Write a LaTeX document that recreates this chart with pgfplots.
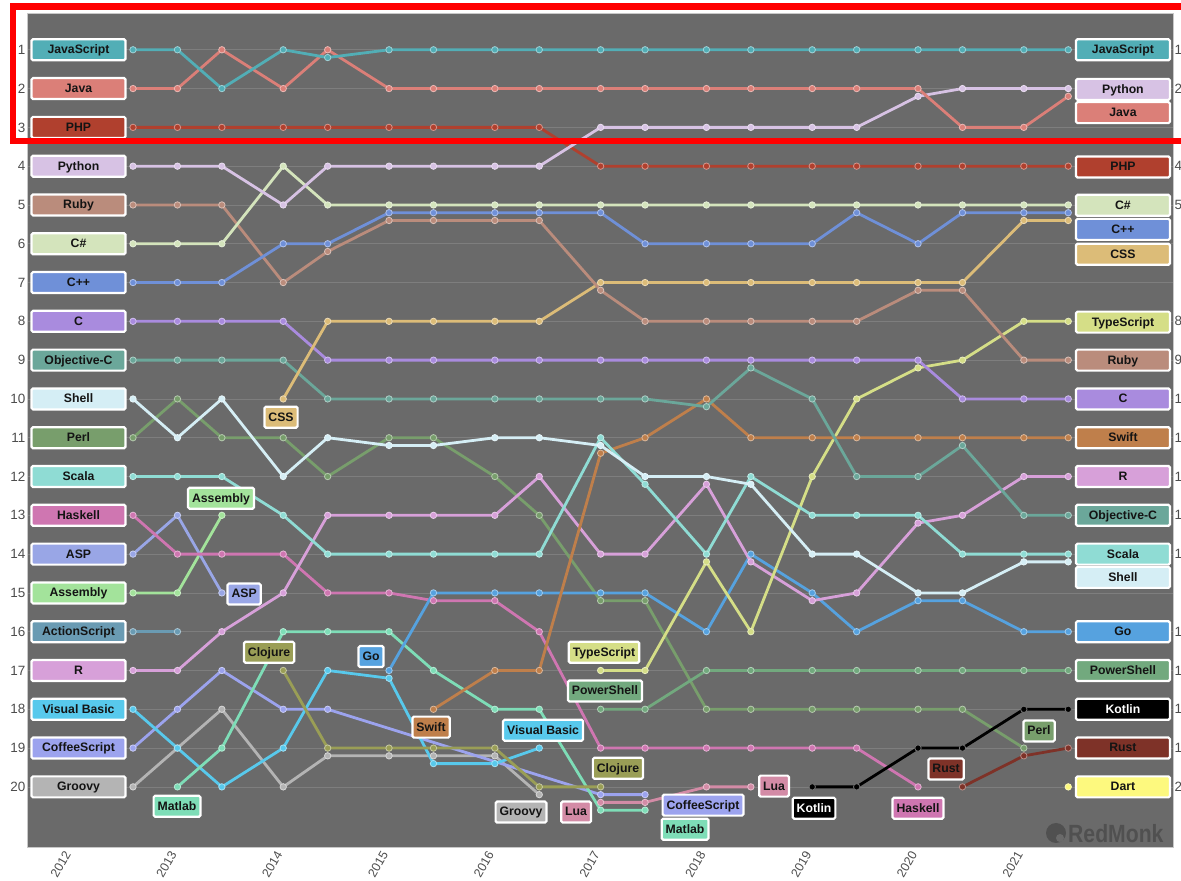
\documentclass[border=0pt]{standalone}
\usepackage{fontspec}
\setmainfont{Liberation Sans}
\usepackage{pgfplots}
\pgfplotsset{compat=1.18}

\definecolor{panel}{HTML}{6A6A6A}
\definecolor{gridc}{HTML}{7E7E7E}
\definecolor{panelline}{HTML}{C8C8C8}
\definecolor{tickc}{HTML}{4D4D4D}
\definecolor{logoc}{HTML}{505050}
\definecolor{cjs}{HTML}{52AEB6}
\definecolor{cjava}{HTML}{DB7F78}
\definecolor{cphp}{HTML}{B0402E}
\definecolor{cpy}{HTML}{D7C2E4}
\definecolor{cruby}{HTML}{BA8C7C}
\definecolor{ccs}{HTML}{D4E4BC}
\definecolor{ccpp}{HTML}{6F90D8}
\definecolor{ccss}{HTML}{DCBC78}
\definecolor{cc}{HTML}{A98BDE}
\definecolor{cobjc}{HTML}{6BA79A}
\definecolor{cshell}{HTML}{D5EEF5}
\definecolor{cperl}{HTML}{789E6C}
\definecolor{cscala}{HTML}{8FDCD4}
\definecolor{chask}{HTML}{CF76B1}
\definecolor{casp}{HTML}{99A6E6}
\definecolor{casm}{HTML}{A3E39B}
\definecolor{cas}{HTML}{6A9BB3}
\definecolor{cr}{HTML}{D7A0D9}
\definecolor{cvb}{HTML}{58C9EC}
\definecolor{ccoffee}{HTML}{9CA3EE}
\definecolor{cgroovy}{HTML}{B4B4B4}
\definecolor{cmatlab}{HTML}{7EDDB7}
\definecolor{cclj}{HTML}{9A9E56}
\definecolor{cgo}{HTML}{56A2DF}
\definecolor{cswift}{HTML}{BF7F4B}
\definecolor{clua}{HTML}{D38BA6}
\definecolor{cts}{HTML}{D5DE87}
\definecolor{cps}{HTML}{72A97E}
\definecolor{ckotlin}{HTML}{000000}
\definecolor{crust}{HTML}{7E3228}
\definecolor{cdart}{HTML}{FDF97E}

\pgfplotsset{
  ser/.style={color=#1, line width=2.8bp, mark=*, mark size=3.2bp,
    mark options={solid, fill=#1, draw=#1!55!white, line width=0.8bp}},
}
\tikzset{
  lbl/.style={draw=white, line width=2.2bp, rounded corners=1.5bp,
    inner xsep=4bp, inner ysep=0bp, minimum height=21bp,
    text height=9bp, text depth=1.2bp,
    font=\fontsize{12.3}{14}\selectfont\bfseries, text=black!92},
  side/.style={lbl, minimum width=94bp},
}
\newcommand{\lab}[4]{\node[lbl, fill=#3] at (axis cs:#1,#2) {#4};}
\newcommand{\sidel}[3]{\node[side, fill=#2] at (axis cs:2012.065,#1) {#3};}
\newcommand{\sider}[3]{\node[side, fill=#2] at (axis cs:2021.937,#1) {#3};}

\begin{document}
\begin{tikzpicture}
\path[use as bounding box] (0,0) rectangle (1181bp,881bp);
\begin{scope}
\clip (0,0) rectangle (1181bp,881bp);
\begin{axis}[
  scale only axis, width=1146bp, height=834bp,
  at={(27bp,34bp)}, anchor=south west,
  xmin=2011.578, xmax=2022.41, ymin=0.052, ymax=21.55, y dir=reverse,
  axis background/.style={fill=panel},
  axis line style={draw=panelline, line width=0.8bp},
  xtick={2012,...,2021}, ytick={1,...,20},
  xtick pos=bottom, ytick pos=left, major tick length=0pt,
  ymajorgrids, grid style={draw=gridc, line width=0.7bp},
  /pgf/number format/1000 sep={},
  /pgf/number format/assume math mode=true,
  xticklabel style={font=\fontsize{12.5}{14}\selectfont, text=tickc,
    xshift=-4bp, yshift=-5bp, rotate=60, anchor=east, inner sep=0pt},
  yticklabel style={font=\fontsize{13.5}{15}\selectfont, text=tickc, inner sep=1.5bp},
  clip=false,
]
% ranks, one series per language
\addplot[ser=cgroovy] coordinates {(2012.58,20) (2013,19) (2013.42,18) (2014,20) (2014.42,19.2) (2015,19.2) (2015.42,19.2) (2016,19.2) (2016.42,20.2)};
\addplot[ser=ccoffee] coordinates {(2012.58,19) (2013,18) (2013.42,17) (2014,18) (2014.42,18) (2017,20.2) (2017.42,20.2)};
\addplot[ser=cvb] coordinates {(2012.58,18) (2013,19) (2013.42,20) (2014,19) (2014.42,17) (2015,17.2) (2015.42,19.4) (2016,19.4) (2016.42,19)};
\addplot[ser=cmatlab] coordinates {(2013,20) (2013.42,19) (2014,16) (2014.42,16) (2015,16) (2015.42,17) (2016,18) (2016.42,18) (2017,20.6) (2017.42,20.6)};
\addplot[ser=cclj] coordinates {(2014,17) (2014.42,19) (2015,19) (2015.42,19) (2016,19) (2016.42,20) (2017,20)};
\addplot[ser=clua] coordinates {(2017,20.4) (2017.42,20.4) (2018,20) (2018.42,20)};
\addplot[ser=cas] coordinates {(2012.58,16) (2013,16)};
\addplot[ser=casm] coordinates {(2012.58,15) (2013,15) (2013.42,13)};
\addplot[ser=casp] coordinates {(2012.58,14) (2013,13) (2013.42,15)};
\addplot[ser=chask] coordinates {(2012.58,13) (2013,14) (2013.42,14) (2014,14) (2014.42,15) (2015,15) (2015.42,15.2) (2016,15.2) (2016.42,16) (2017,19) (2017.42,19) (2018,19) (2018.42,19) (2019,19) (2019.42,19) (2020,20)};
\addplot[ser=cperl] coordinates {(2012.58,11) (2013,10) (2013.42,11) (2014,11) (2014.42,12) (2015,11) (2015.42,11) (2016,12) (2016.42,13) (2017,15.2) (2017.42,15.2) (2018,18) (2018.42,18) (2019,18) (2019.42,18) (2020,18) (2020.42,18) (2021,19)};
\addplot[ser=cps] coordinates {(2017,18) (2017.42,18) (2018,17) (2018.42,17) (2019,17) (2019.42,17) (2020,17) (2020.42,17) (2021,17) (2021.42,17)};
\addplot[ser=ckotlin] coordinates {(2019,20) (2019.42,20) (2020,19) (2020.42,19) (2021,18) (2021.42,18)};
\addplot[ser=crust] coordinates {(2020.42,20) (2021,19.2) (2021.42,19)};
\addplot[ser=cdart] coordinates {(2021.42,20)};
\addplot[ser=cgo] coordinates {(2015,17) (2015.42,15) (2016,15) (2016.42,15) (2017,15) (2017.42,15) (2018,16) (2018.42,14) (2019,15) (2019.42,16) (2020,15.2) (2020.42,15.2) (2021,16) (2021.42,16)};
\addplot[ser=cr] coordinates {(2012.58,17) (2013,17) (2013.42,16) (2014,15) (2014.42,13) (2015,13) (2015.42,13) (2016,13) (2016.42,12) (2017,14) (2017.42,14) (2018,12.2) (2018.42,14.2) (2019,15.2) (2019.42,15) (2020,13.2) (2020.42,13) (2021,12) (2021.42,12)};
\addplot[ser=cts] coordinates {(2017,17) (2017.42,17) (2018,14.2) (2018.42,16) (2019,12) (2019.42,10) (2020,9.2) (2020.42,9) (2021,8) (2021.42,8)};
\addplot[ser=cswift] coordinates {(2015.42,18) (2016,17) (2016.42,17) (2017,11.4) (2017.42,11) (2018,10) (2018.42,11) (2019,11) (2019.42,11) (2020,11) (2020.42,11) (2021,11) (2021.42,11)};
\addplot[ser=cscala] coordinates {(2012.58,12) (2013,12) (2013.42,12) (2014,13) (2014.42,14) (2015,14) (2015.42,14) (2016,14) (2016.42,14) (2017,11) (2017.42,12.2) (2018,14) (2018.42,12) (2019,13) (2019.42,13) (2020,13) (2020.42,14) (2021,14) (2021.42,14)};
\addplot[ser=cobjc] coordinates {(2012.58,9) (2013,9) (2013.42,9) (2014,9) (2014.42,10) (2015,10) (2015.42,10) (2016,10) (2016.42,10) (2017,10) (2017.42,10) (2018,10.2) (2018.42,9.2) (2019,10) (2019.42,12) (2020,12) (2020.42,11.2) (2021,13) (2021.42,13)};
\addplot[ser=cshell] coordinates {(2012.58,10) (2013,11) (2013.42,10) (2014,12) (2014.42,11) (2015,11.2) (2015.42,11.2) (2016,11) (2016.42,11) (2017,11.2) (2017.42,12) (2018,12) (2018.42,12.2) (2019,14) (2019.42,14) (2020,15) (2020.42,15) (2021,14.2) (2021.42,14.2)};
\addplot[ser=cc] coordinates {(2012.58,8) (2013,8) (2013.42,8) (2014,8) (2014.42,9) (2015,9) (2015.42,9) (2016,9) (2016.42,9) (2017,9) (2017.42,9) (2018,9) (2018.42,9) (2019,9) (2019.42,9) (2020,9) (2020.42,10) (2021,10) (2021.42,10)};
\addplot[ser=ccss] coordinates {(2014,10) (2014.42,8) (2015,8) (2015.42,8) (2016,8) (2016.42,8) (2017,7) (2017.42,7) (2018,7) (2018.42,7) (2019,7) (2019.42,7) (2020,7) (2020.42,7) (2021,5.4) (2021.42,5.4)};
\addplot[ser=cruby] coordinates {(2012.58,5) (2013,5) (2013.42,5) (2014,7) (2014.42,6.2) (2015,5.4) (2015.42,5.4) (2016,5.4) (2016.42,5.4) (2017,7.2) (2017.42,8) (2018,8) (2018.42,8) (2019,8) (2019.42,8) (2020,7.2) (2020.42,7.2) (2021,9) (2021.42,9)};
\addplot[ser=ccpp] coordinates {(2012.58,7) (2013,7) (2013.42,7) (2014,6) (2014.42,6) (2015,5.2) (2015.42,5.2) (2016,5.2) (2016.42,5.2) (2017,5.2) (2017.42,6) (2018,6) (2018.42,6) (2019,6) (2019.42,5.2) (2020,6) (2020.42,5.2) (2021,5.2) (2021.42,5.2)};
\addplot[ser=ccs] coordinates {(2012.58,6) (2013,6) (2013.42,6) (2014,4) (2014.42,5) (2015,5) (2015.42,5) (2016,5) (2016.42,5) (2017,5) (2017.42,5) (2018,5) (2018.42,5) (2019,5) (2019.42,5) (2020,5) (2020.42,5) (2021,5) (2021.42,5)};
\addplot[ser=cphp] coordinates {(2012.58,3) (2013,3) (2013.42,3) (2014,3) (2014.42,3) (2015,3) (2015.42,3) (2016,3) (2016.42,3) (2017,4) (2017.42,4) (2018,4) (2018.42,4) (2019,4) (2019.42,4) (2020,4) (2020.42,4) (2021,4) (2021.42,4)};
\addplot[ser=cpy] coordinates {(2012.58,4) (2013,4) (2013.42,4) (2014,5) (2014.42,4) (2015,4) (2015.42,4) (2016,4) (2016.42,4) (2017,3) (2017.42,3) (2018,3) (2018.42,3) (2019,3) (2019.42,3) (2020,2.2) (2020.42,2) (2021,2) (2021.42,2)};
\addplot[ser=cjava] coordinates {(2012.58,2) (2013,2) (2013.42,1) (2014,2) (2014.42,1) (2015,2) (2015.42,2) (2016,2) (2016.42,2) (2017,2) (2017.42,2) (2018,2) (2018.42,2) (2019,2) (2019.42,2) (2020,2) (2020.42,3) (2021,3) (2021.42,2.2)};
\addplot[ser=cjs] coordinates {(2012.58,1) (2013,1) (2013.42,2) (2014,1) (2014.42,1.2) (2015,1) (2015.42,1) (2016,1) (2016.42,1) (2017,1) (2017.42,1) (2018,1) (2018.42,1) (2019,1) (2019.42,1) (2020,1) (2020.42,1) (2021,1) (2021.42,1)};

% labels at the start
\sidel{1}{cjs}{JavaScript}
\sidel{2}{cjava}{Java}
\sidel{3}{cphp}{PHP}
\sidel{4}{cpy}{Python}
\sidel{5}{cruby}{Ruby}
\sidel{6}{ccs}{C\#}
\sidel{7}{ccpp}{C++}
\sidel{8}{cc}{C}
\sidel{9}{cobjc}{Objective-C}
\sidel{10}{cshell}{Shell}
\sidel{11}{cperl}{Perl}
\sidel{12}{cscala}{Scala}
\sidel{13}{chask}{Haskell}
\sidel{14}{casp}{ASP}
\sidel{15}{casm}{Assembly}
\sidel{16}{cas}{ActionScript}
\sidel{17}{cr}{R}
\sidel{18}{cvb}{Visual Basic}
\sidel{19}{ccoffee}{CoffeeScript}
\sidel{20}{cgroovy}{Groovy}

% labels at the end
\sider{1}{cjs}{JavaScript}
\sider{2.02}{cpy}{Python}
\sider{2.62}{cjava}{Java}
\sider{4.02}{cphp}{PHP}
\sider{5.01}{ccs}{C\#}
\sider{5.63}{ccpp}{C++}
\sider{6.27}{ccss}{CSS}
\sider{8.02}{cts}{TypeScript}
\sider{9}{cruby}{Ruby}
\sider{10}{cc}{C}
\sider{11}{cswift}{Swift}
\sider{12}{cr}{R}
\sider{13}{cobjc}{Objective-C}
\sider{14}{cscala}{Scala}
\sider{14.6}{cshell}{Shell}
\sider{16}{cgo}{Go}
\sider{17}{cps}{PowerShell}
\node[side, fill=ckotlin, text=white] at (axis cs:2021.937,18) {Kotlin};
\sider{19}{crust}{Rust}
\sider{20}{cdart}{Dart}

% labels inside the panel
\lab{2013.979}{10.47}{ccss}{CSS}
\lab{2013.412}{12.56}{casm}{Assembly}
\lab{2013.63}{15.03}{casp}{ASP}
\lab{2013.866}{16.53}{cclj}{Clojure}
\lab{2014.83}{16.64}{cgo}{Go}
\lab{2015.397}{18.46}{cswift}{Swift}
\lab{2016.456}{18.54}{cvb}{Visual Basic}
\lab{2016.248}{20.65}{cgroovy}{Groovy}
\lab{2016.768}{20.65}{clua}{Lua}
\lab{2012.996}{20.50}{cmatlab}{Matlab}
\lab{2017.032}{16.53}{cts}{TypeScript}
\lab{2017.041}{17.53}{cps}{PowerShell}
\lab{2017.164}{19.52}{cclj}{Clojure}
\lab{2017.968}{20.47}{ccoffee}{CoffeeScript}
\lab{2017.798}{21.09}{cmatlab}{Matlab}
\lab{2018.639}{19.98}{clua}{Lua}
\node[lbl, fill=ckotlin, text=white] at (axis cs:2019.017,20.55) {Kotlin};
\lab{2020.0}{20.55}{chask}{Haskell}
\lab{2020.265}{19.54}{crust}{Rust}
\lab{2021.144}{18.56}{cperl}{Perl}
\end{axis}

% rank numbers on the right, cut by the page edge
\begin{axis}[
  scale only axis, width=1146bp, height=834bp,
  at={(27bp,34bp)}, anchor=south west,
  xmin=2011.578, xmax=2022.41, ymin=0.052, ymax=21.55, y dir=reverse,
  hide x axis, axis y line*=right, axis line style={draw=none},
  ytick={1,2,4,5,8,9,10,11,12,13,14,16,17,18,19,20}, major tick length=0pt,
  /pgf/number format/assume math mode=true,
  yticklabel style={font=\fontsize{13.5}{15}\selectfont, text=tickc, inner sep=1.5bp},
]
\addplot[draw=none] coordinates {(2015,1)};
\end{axis}

% logo
\fill[logoc] (1056bp,48bp) circle (10bp);
\fill[panel] (1060bp,43bp) circle (4bp);
\node[anchor=west, inner sep=0pt, text=logoc, font=\fontsize{25}{28}\selectfont\bfseries]
  at (1068bp,47bp) {\scalebox{0.85}[1]{RedMonk}};

% red highlight box
\draw[red, line width=6.5bp] (13bp,740bp) rectangle (1200bp,874.5bp);
\end{scope}
\end{tikzpicture}
\end{document}
